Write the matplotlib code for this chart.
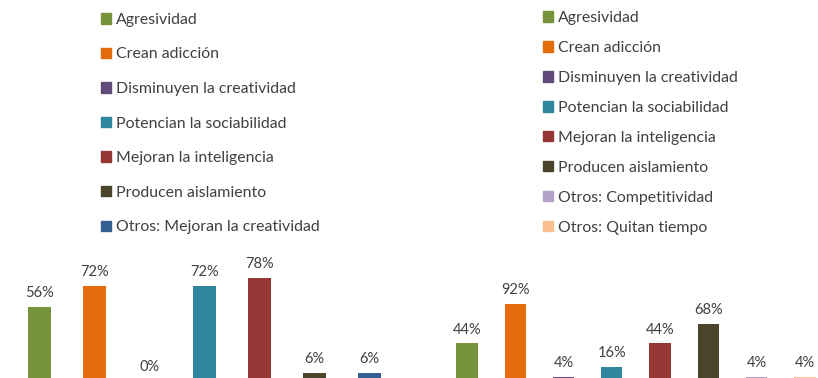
import matplotlib.pyplot as plt
from matplotlib.patches import Patch

# left panel
cats_a = ['Agresividad', 'Crean adicción', 'Disminuyen la creatividad',
          'Potencian la sociabilidad', 'Mejoran la inteligencia',
          'Producen aislamiento', 'Otros: Mejoran la creatividad']
vals_a = [56, 72, 0, 72, 78, 6, 6]
cols_a = ['#77933C', '#E46C0A', '#604A7B', '#31859C', '#953735', '#4A452A', '#376092']

# right panel
cats_b = ['Agresividad', 'Crean adicción', 'Disminuyen la creatividad',
          'Potencian la sociabilidad', 'Mejoran la inteligencia',
          'Producen aislamiento', 'Otros: Competitividad', 'Otros: Quitan tiempo']
vals_b = [44, 92, 4, 16, 44, 68, 4, 4]
cols_b = ['#77933C', '#E46C0A', '#604A7B', '#31859C', '#953735', '#4A452A', '#B3A2C7', '#FAC090']

W, H = 818, 378
plt.rcParams['font.family'] = ['Lato', 'DejaVu Sans']
txt = '#404040'
fig = plt.figure(figsize=(W / 100, H / 100), dpi=100)


def panel(left_px, right_px, xmax, ymin, ymax, cats, vals, cols, width):
    ax = fig.add_axes([left_px / W, 0, (right_px - left_px) / W, 128 / H])
    x = range(len(vals))
    ax.bar(x, vals, width=width, color=cols)
    for i, v in zip(x, vals):
        ax.annotate(f'{v}%', (i, v), xytext=(0, 10), textcoords='offset points',
                    ha='center', va='center', fontsize=10.5, color=txt,
                    annotation_clip=False)
    ax.set_xlim(-0.5, xmax)
    ax.set_ylim(ymin, ymax)
    ax.axis('off')
    return ax


panel(12, 397, 6.5, 2.3, 99.3, cats_a, vals_a, cols_a, 0.42)
panel(442.8, 818, 7.27, 2.4, 156.6, cats_b, vals_b, cols_b, 0.44)

leg_kw = dict(loc='upper left', frameon=False, borderpad=0, handlelength=0.63,
              handleheight=0.63, handletextpad=0.3, fontsize=11.4, labelcolor=txt)
fig.legend([Patch(color=c) for c in cols_a], cats_a,
           bbox_to_anchor=(93 / W, 1 - 5 / H), labelspacing=1.3, **leg_kw)
fig.legend([Patch(color=c) for c in cols_b], cats_b,
           bbox_to_anchor=(535 / W, 1 - 3 / H), labelspacing=1.01, **leg_kw)

fig.savefig('out.png', dpi=100)
